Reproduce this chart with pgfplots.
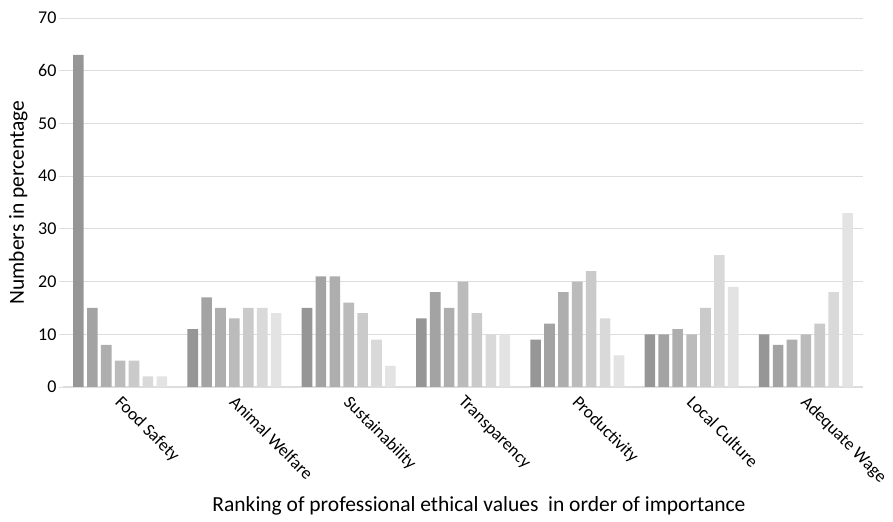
\documentclass[border=0pt]{standalone}
\usepackage{fontspec}
\setmainfont{Carlito}
\usepackage{pgfplots}
\pgfplotsset{compat=1.18}
\definecolor{g1}{HTML}{969696}
\definecolor{g2}{HTML}{A3A3A3}
\definecolor{g3}{HTML}{AEAEAE}
\definecolor{g4}{HTML}{BBBBBB}
\definecolor{g5}{HTML}{CACACA}
\definecolor{g6}{HTML}{D9D9D9}
\definecolor{g7}{HTML}{E3E3E3}
\definecolor{gridc}{HTML}{DDDDDD}
\begin{document}
\begin{tikzpicture}
\begin{axis}[
  scale only axis,
  width=800pt, height=369pt,
  ybar=3.3pt, bar width=10.6pt,
  xmin=-0.5, xmax=6.5,
  ymin=0, ymax=70,
  ytick={0,10,...,70},
  xtick={0,...,6},
  xticklabels={Food Safety,Animal Welfare,Sustainability,Transparency,Productivity,Local Culture,Adequate Wage},
  x tick label style={rotate=-45, anchor=north west, xshift=1pt, yshift=3pt, font=\fontsize{17.5}{20}\selectfont},
  y tick label style={font=\fontsize{18}{20}\selectfont},
  /pgf/number format/assume math mode=true,
  axis lines*=left,
  x axis line style={draw=gridc, line width=1.2pt},
  y axis line style={draw=none},
  xtick style={draw=none},
  ytick style={draw=gridc, line width=0.8pt},
  ytick pos=left, tick align=outside, major tick length=4pt,
  ymajorgrids, grid style={draw=gridc, line width=0.8pt},
  ylabel={Numbers in percentage},
  xlabel={Ranking of professional ethical values\ \ in order of importance},
  label style={font=\fontsize{21.5}{24}\selectfont},
  ylabel style={at={(axis description cs:-0.056,0.5)}, anchor=center},
  xlabel style={xshift=16pt, yshift=-3pt},
  yticklabel style={xshift=1pt},
]
\addplot[fill=g1, draw=none] coordinates {(0,63) (1,11) (2,15) (3,13) (4,9) (5,10) (6,10)};
\addplot[fill=g2, draw=none] coordinates {(0,15) (1,17) (2,21) (3,18) (4,12) (5,10) (6,8)};
\addplot[fill=g3, draw=none] coordinates {(0,8) (1,15) (2,21) (3,15) (4,18) (5,11) (6,9)};
\addplot[fill=g4, draw=none] coordinates {(0,5) (1,13) (2,16) (3,20) (4,20) (5,10) (6,10)};
\addplot[fill=g5, draw=none] coordinates {(0,5) (1,15) (2,14) (3,14) (4,22) (5,15) (6,12)};
\addplot[fill=g6, draw=none] coordinates {(0,2) (1,15) (2,9) (3,10) (4,13) (5,25) (6,18)};
\addplot[fill=g7, draw=none] coordinates {(0,2) (1,14) (2,4) (3,10) (4,6) (5,19) (6,33)};
\end{axis}
\pgfresetboundingbox
\path[use as bounding box] ([xshift=-63pt,yshift=-135pt]current axis.south west) rectangle ([xshift=30pt,yshift=18pt]current axis.north east);
\end{tikzpicture}
\end{document}
